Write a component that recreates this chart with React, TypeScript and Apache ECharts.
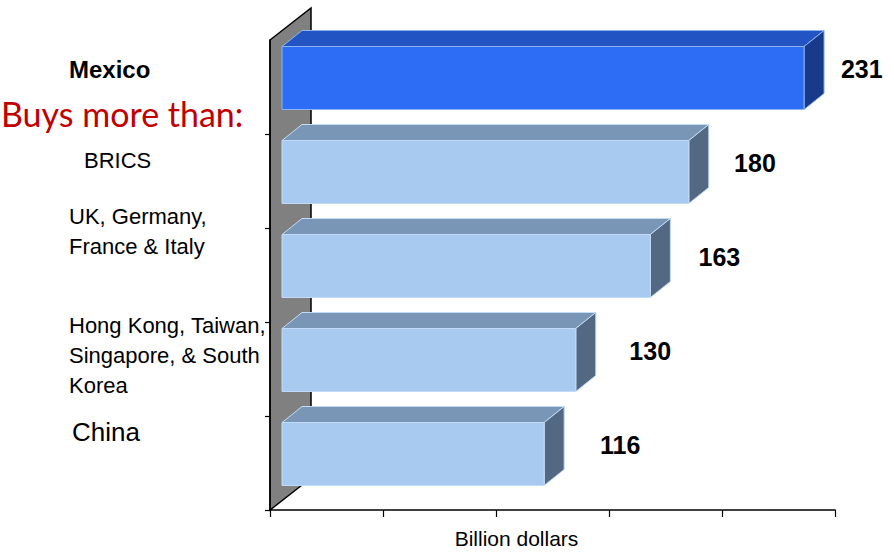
import React, { useEffect, useRef } from "react";
import * as echarts from "echarts";

const categories = [
  "Mexico",
  "BRICS",
  "UK, Germany,\nFrance & Italy",
  "Hong Kong, Taiwan,\nSingapore, & South\nKorea",
  "China",
];
const values = [231, 180, 163, 130, 116];
const xTicks = [0, 50, 100, 150, 200, 250];
const subtitle = "Buys more than:";
const axisName = "Billion dollars";

// label layout (left column)
const labelPos = [
  { x: 69, y: 69, size: 24, bold: true },
  { x: 84, y: 160, size: 22, bold: false },
  { x: 69, y: 231, size: 22, bold: false },
  { x: 69, y: 355, size: 22, bold: false },
  { x: 72, y: 432, size: 26, bold: false },
];

const FONT = "'Liberation Sans', Arial, sans-serif";

export default function App() {
  const ref = useRef<HTMLDivElement>(null);
  useEffect(() => {
    if (!ref.current) return;
    const chart = echarts.init(ref.current, undefined, { renderer: "svg" });
    const data = values.map((v, i) => [v, i]);
    const FX = 12, FY = -9; // front face depth offset
    const DX = 20, DY = -16; // bar depth
    const option: any = {
      animation: false,
      backgroundColor: "#fff",
      grid: { left: 270, right: 59, top: 40, bottom: 45, outerBoundsMode: "none", containLabel: false },
      xAxis: {
        type: "value",
        min: xTicks[0],
        max: xTicks[xTicks.length - 1],
        interval: xTicks[1] - xTicks[0],
        axisLine: { show: true, lineStyle: { color: "#000", width: 1.5 } },
        axisTick: { show: true, length: 7, lineStyle: { color: "#000", width: 1.2 } },
        axisLabel: { show: false },
        splitLine: { show: false },
        name: axisName,
        nameLocation: "middle",
        nameGap: 18,
        nameTextStyle: { fontFamily: FONT, fontSize: 21, color: "#000", padding: [0, 72, 0, 0] },
      },
      yAxis: {
        type: "category",
        inverse: true,
        data: categories,
        axisLine: { show: true, lineStyle: { color: "#000", width: 1.5 } },
        axisTick: {
          show: true,
          length: 5,
          interval: (i: number) => i !== 0,
          lineStyle: { color: "#000", width: 1.2 },
        },
        axisLabel: { show: false },
      },
      graphic: [
        {
          type: "polygon",
          z: -10,
          shape: { points: [[270, 40], [311, 8], [311, 478], [270, 510]] },
          style: { fill: "#808080", stroke: "#000", lineWidth: 1.5 },
        },
        ...categories.map((c, i) => ({
          type: "text",
          x: labelPos[i].x,
          y: labelPos[i].y,
          style: {
            text: c,
            fontFamily: FONT,
            fontSize: labelPos[i].size,
            fontWeight: labelPos[i].bold ? "bold" : "normal",
            fill: "#000",
            verticalAlign: "middle",
            lineHeight: 30,
          },
        })),
        {
          type: "text",
          x: 1,
          y: 113,
          style: {
            text: subtitle,
            fontFamily: "Lato, sans-serif",
            fontSize: 34,
            fill: "#C00000",
            verticalAlign: "middle",
          },
        },
      ],
      series: [
        {
          type: "custom",
          data,
          renderItem: (params: any, api: any) => {
            const v = api.value(0);
            const idx = api.value(1);
            const c0 = api.coord([0, idx]);
            const c1 = api.coord([v, idx]);
            const band = api.size([0, 1])[1];
            const h = band * 0.67;
            const x0 = c0[0] + FX, x1 = c1[0] + FX;
            const y0 = c0[1] - h / 2 + FY, y1 = c0[1] + h / 2 + FY;
            const hi = idx === 0;
            const front = hi ? "#2D6DF6" : "#A8CAF0";
            const top = hi ? "#2254C4" : "#7A96B6";
            const side = hi ? "#183A8A" : "#536882";
            const edge = hi ? "#8DB4F0" : "#C2DBF6";
            const lx = c0[0] + (c1[0] - c0[0]) * 0.927 + 87;
            return {
              type: "group",
              children: [
                {
                  type: "polygon",
                  shape: { points: [[x0, y0], [x1, y0], [x1 + DX, y0 + DY], [x0 + DX, y0 + DY]] },
                  style: { fill: top, stroke: edge, lineWidth: 1 },
                },
                {
                  type: "polygon",
                  shape: { points: [[x1, y0], [x1 + DX, y0 + DY], [x1 + DX, y1 + DY], [x1, y1]] },
                  style: { fill: side, stroke: edge, lineWidth: 1 },
                },
                {
                  type: "rect",
                  shape: { x: x0, y: y0, width: x1 - x0, height: y1 - y0 },
                  style: { fill: front, stroke: edge, lineWidth: 1 },
                },
                {
                  type: "text",
                  x: lx,
                  y: c0[1] - 18,
                  style: {
                    text: String(v),
                    fontFamily: FONT,
                    fontSize: 25,
                    fontWeight: "bold",
                    fill: "#000",
                    verticalAlign: "middle",
                  },
                },
              ],
            };
          },
        },
      ],
    };
    chart.setOption(option);
    return () => chart.dispose();
  }, []);
  return <div ref={ref} style={{ position: "fixed", left: 0, top: 0, width: 894, height: 555 }} />;
}
